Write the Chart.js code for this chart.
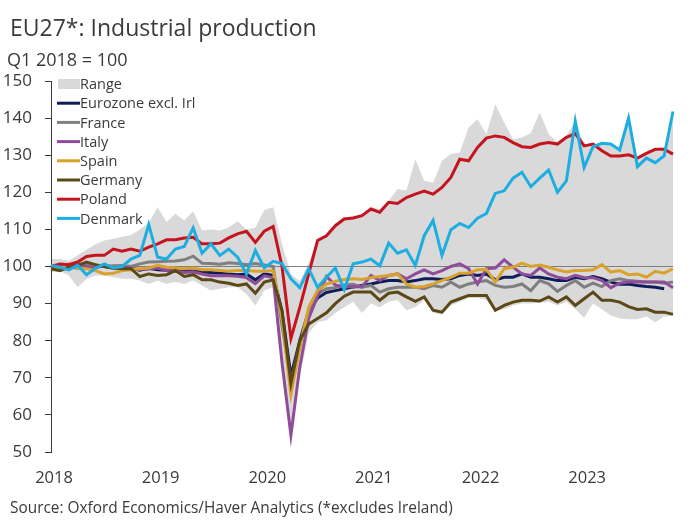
<!DOCTYPE html>
<html>
<head>
<meta charset="utf-8">
<script src="https://cdn.jsdelivr.net/npm/chart.js@4/dist/chart.umd.min.js"></script>
<style>
html,body{margin:0;padding:0;background:#fff;}
#wrap{position:relative;width:695px;height:526px;overflow:hidden;font-family:"Open Sans",sans-serif;color:#3a3a3a;}
#c{position:absolute;left:0;top:0;}
.t{position:absolute;white-space:nowrap;line-height:1;}
#title{left:10px;top:16px;font-size:23px;}
#sub{left:7px;top:50px;font-size:18px;}
#src{left:10px;top:500px;font-size:15.4px;}
</style>
</head>
<body>
<div id="wrap">
<canvas id="c" width="695" height="526"></canvas>
<div class="t" id="title">EU27*: Industrial production</div>
<div class="t" id="sub">Q1 2018 = 100</div>
<div class="t" id="src">Source: Oxford Economics/Haver Analytics (*excludes Ireland)</div>
</div>
<script>
const months = [
'Jan 2018','Feb 2018','Mar 2018','Apr 2018','May 2018','Jun 2018','Jul 2018','Aug 2018','Sep 2018','Oct 2018','Nov 2018','Dec 2018',
'Jan 2019','Feb 2019','Mar 2019','Apr 2019','May 2019','Jun 2019','Jul 2019','Aug 2019','Sep 2019','Oct 2019','Nov 2019','Dec 2019',
'Jan 2020','Feb 2020','Mar 2020','Apr 2020','May 2020','Jun 2020','Jul 2020','Aug 2020','Sep 2020','Oct 2020','Nov 2020','Dec 2020',
'Jan 2021','Feb 2021','Mar 2021','Apr 2021','May 2021','Jun 2021','Jul 2021','Aug 2021','Sep 2021','Oct 2021','Nov 2021','Dec 2021',
'Jan 2022','Feb 2022','Mar 2022','Apr 2022','May 2022','Jun 2022','Jul 2022','Aug 2022','Sep 2022','Oct 2022','Nov 2022','Dec 2022',
'Jan 2023','Feb 2023','Mar 2023','Apr 2023','May 2023','Jun 2023','Jul 2023','Aug 2023','Sep 2023','Oct 2023','Nov 2023'];
const yearTickLabels = ['2018','2019','2020','2021','2022','2023'];

const rangeMax = [102,102,101.5,103,104.5,106,107,107.5,108,108.5,110,111.8,116,112,114.2,112.5,114.9,109.7,110,109.7,110.5,112.2,110,110.5,115.2,116,
106,98,96,101,107.4,108.5,111.5,113.3,113.5,114,116,115.5,117.7,120.9,120.5,128.9,123.1,122.5,128.5,130.3,130.7,137.5,139.7,135.7,143.7,138.8,134.3,134.8,136,141.5,
135.7,133.4,135.2,139.2,133,133,133.2,133,131.4,140,129.5,130.5,131.6,131.6,141.8];
const rangeMin = [98.5,98.8,97.6,94.4,96.6,97.6,97.6,97.1,96.7,96.7,96.2,95.3,96.2,95.3,95.8,95.3,96.2,94.9,93.5,94,94.4,94.4,92.6,89.5,93.5,94.4,
72,54,70,82,85,85.5,87.5,89,90.5,87.5,90,89,90.5,91,88.2,89,91,87.5,87,89.5,90.5,91.5,91.5,91,88,88.5,89.5,90,90,90.2,
90.5,89.5,90.5,88.5,86.2,90,88.5,86.8,86,85.8,85.8,86.5,85,86.5,86.8];
const eurozone = [100,99.7,99.8,100.2,100.3,100.2,100,99.6,99.7,99.5,99,99.5,99.1,99,98.8,99,98.8,98.5,98.4,98.2,98,97.8,98,96.4,98,97.6,
88,70.5,80,88,91.5,93,93.5,94,94.5,94.9,95.3,95.8,96.2,96.2,95.8,96.2,96.7,96.7,96.5,96.7,97.6,98,97.6,98,96.4,97.1,97.1,98,97.1,97.1,
96.7,96.2,96.2,97.1,96.7,97.3,96.7,95.8,95.2,95.3,94.9,94.6,94.4,94,null];
const france = [100,99.8,100,99.5,100.5,100,100,100.2,100.3,100,100.7,101.2,101.3,101.4,101.5,101.8,102.8,100.9,100.8,100.6,101,100.8,100.5,100.8,100.4,100,
84,69,79,88,92.5,94,94.3,95,95.2,94.4,94.9,93.1,94,94.4,94.4,94.4,94,94.9,94.4,95.8,94.4,95.3,95.8,96.2,94.9,94.4,94.6,95.3,93.5,96.2,
95.3,93.3,94.9,96.2,94.4,95.5,94.6,96.2,96.7,96.2,96,95.8,95.8,95.5,95.8];
const italy = [99.5,100,99.8,100.5,100,99.6,100.3,99.5,99.8,99.5,99.2,99.3,99.6,99,98.8,98.4,98.6,98,97.5,97.6,97.5,97.4,97,95.4,97.5,97,
74,54.5,73,86,92,97.3,95,94.5,94.6,94.5,97.6,96.2,97.6,98,96.7,98,99.1,98,98.9,100,100.7,99.4,95.3,99.4,99.6,101.8,99.8,98,97.6,99.6,
98,97.1,96.7,97.6,97,97,96.2,94.3,95.5,95.8,95.8,95.8,95.8,95.8,94.3];
const spain = [99.4,99.6,100.7,99.6,99.4,98.9,98,98.2,98.9,99.1,99.4,99.6,100.3,99.8,99.6,99.4,99.6,99.1,99.1,98.9,98.7,98.9,98.9,98.7,98.7,98.9,
86,65.5,78,89,93.5,95.3,96,96.5,96.7,96.5,97,97.3,97.6,98,95.3,94.4,94.6,95.3,96.2,97.1,98.2,98.2,99.1,99.2,95.8,99.4,99.8,100.9,100,100.4,
99.8,99.1,98.5,98.9,98.9,99.1,100.5,98.5,98.9,97.8,98,97.1,98.7,98.2,99.4];
const germany = [99.4,98.9,99.8,100.3,101.2,100.5,100,99.6,99.4,99.4,97.3,98,97.6,97.8,98.9,97.3,97.8,96.4,96.4,95.8,95.5,94.9,95.3,92.8,95.8,96.4,
88,68.5,80,84.5,86,87.5,90,92,93.1,93.1,93.1,90.9,92.8,93.1,91.8,90.6,91.8,88.2,87.7,90.4,91.3,92.2,92.2,92.2,88.2,89.5,90.4,90.9,90.9,90.7,
91.8,90.4,91.8,89.5,91.3,93.1,90.9,90.9,90.4,89.2,88.4,88.6,87.7,87.7,87.1];
const poland = [100,100.7,100.5,101.2,102.7,103,103,104.7,104.1,104.7,104.1,105.2,106.1,107.2,107.2,107.7,107.9,106.1,106.1,106.3,107.7,108.8,109.5,106.5,109.5,110.8,
100,80.6,89,98,107,108.3,111,112.8,113.1,113.7,115.5,114.6,117.3,117,118.6,119.5,120.3,119.5,121.3,124,128.9,128.5,132.1,134.6,135.2,134.8,133.4,132.3,132.1,133,
133.4,133,134.8,135.8,132.5,133,131.2,129.8,129.8,130.1,129.2,130.5,131.6,131.6,130.3];
const denmark = [100.3,99.8,99.1,100.3,97.8,99.5,100.7,99.6,100,102,103,111.3,102.5,102,104.7,105.4,110.4,103.6,106.1,103,104.7,102.5,98,104.3,99.6,101.4,
100.8,96.7,94.3,99.4,94.4,97.1,99.6,93.8,100.7,101.2,102,100.2,106.3,103.6,104.5,100.3,108.3,112.4,103,109.9,111.6,110.5,113,114.3,119.7,120.4,123.8,125.4,121.5,123.8,
126,120,123.1,139.2,126.7,132.3,133.2,133,131.4,140,126.9,129.2,128,129.8,141.8];

const C = {
  range:'#d9d9d9', eurozone:'#0c1d5a', france:'#7f7f7f', italy:'#8f4c99', spain:'#d9a22c',
  germany:'#5b4816', poland:'#c3141f', denmark:'#1caee1'
};

function line(label, data, color, order){
  return {label, data, borderColor:color, backgroundColor:color, borderWidth:3,
    pointRadius:0, tension:0, fill:false, order, legendLine:true};
}

const datasets = [
  {label:'Range', data:rangeMax, borderWidth:0, pointRadius:0, borderColor:'rgba(0,0,0,0)',
   backgroundColor:C.range, fill:'+1', order:20, legendBox:true},
  {label:'Range min', data:rangeMin, borderWidth:0, pointRadius:0, borderColor:'rgba(0,0,0,0)',
   backgroundColor:C.range, fill:false, order:21},
  line('Eurozone excl. Irl', eurozone, C.eurozone, 7),
  line('France', france, C.france, 6),
  line('Italy', italy, C.italy, 5),
  line('Spain', spain, C.spain, 4),
  line('Germany', germany, C.germany, 3),
  line('Poland', poland, C.poland, 2),
  line('Denmark', denmark, C.denmark, 1)
];

const insideLegend = {
  id:'insideLegend',
  afterDatasetsDraw(chart){
    const ctx = chart.ctx;
    const items = chart.data.datasets.filter(d => d.legendBox || d.legendLine);
    ctx.save();
    ctx.font = '14.5px "Open Sans"';
    ctx.textBaseline = 'middle';
    ctx.textAlign = 'left';
    const x0 = 57, y0 = 84, dy = 19.2;
    items.forEach((d, k) => {
      const y = y0 + k*dy;
      if (d.legendBox){
        ctx.fillStyle = d.backgroundColor;
        ctx.fillRect(x0+1, y-5, 22, 10);
      } else {
        ctx.strokeStyle = d.borderColor;
        ctx.lineWidth = 3;
        ctx.beginPath(); ctx.moveTo(x0, y); ctx.lineTo(x0+23, y); ctx.stroke();
      }
      ctx.fillStyle = '#3a3a3a';
      ctx.fillText(d.label, x0+23, y+1);
    });
    ctx.restore();
  }
};

new Chart(document.getElementById('c'), {
  type:'line',
  data:{labels:months, datasets},
  options:{
    responsive:false, animation:false, devicePixelRatio:1,
    layout:{padding:{left:0, right:22, top:81, bottom:0}},
    plugins:{legend:{display:false}, tooltip:{enabled:false}, filler:{drawTime:'beforeDraw'}},
    scales:{
      x:{
        type:'category', offset:false,
        grid:{display:false, drawTicks:false}, border:{display:false},
        afterFit(s){ s.height = 74; },
        ticks:{autoSkip:false, maxRotation:0, minRotation:0, padding:16, labelOffset:3, color:'#3a3a3a',
          font:{family:'Open Sans', size:16.5},
          callback(v, i){ return i % 12 === 0 ? yearTickLabels[i/12] : ''; }}
      },
      y:{
        min:50, max:150,
        afterFit(s){ s.width = 51; },
        grid:{drawTicks:true, tickLength:6, tickColor:'#3a3a3a', lineWidth:1,
          color(ctx){ return ctx.tick && ctx.tick.value === 100 ? '#7f7f7f' : 'rgba(0,0,0,0)'; }},
        border:{display:true, color:'#3a3a3a', width:1},
        ticks:{stepSize:10, padding:13, color:'#3a3a3a', font:{family:'Open Sans', size:17}}
      }
    }
  },
  plugins:[insideLegend]
});
</script>
</body>
</html>
